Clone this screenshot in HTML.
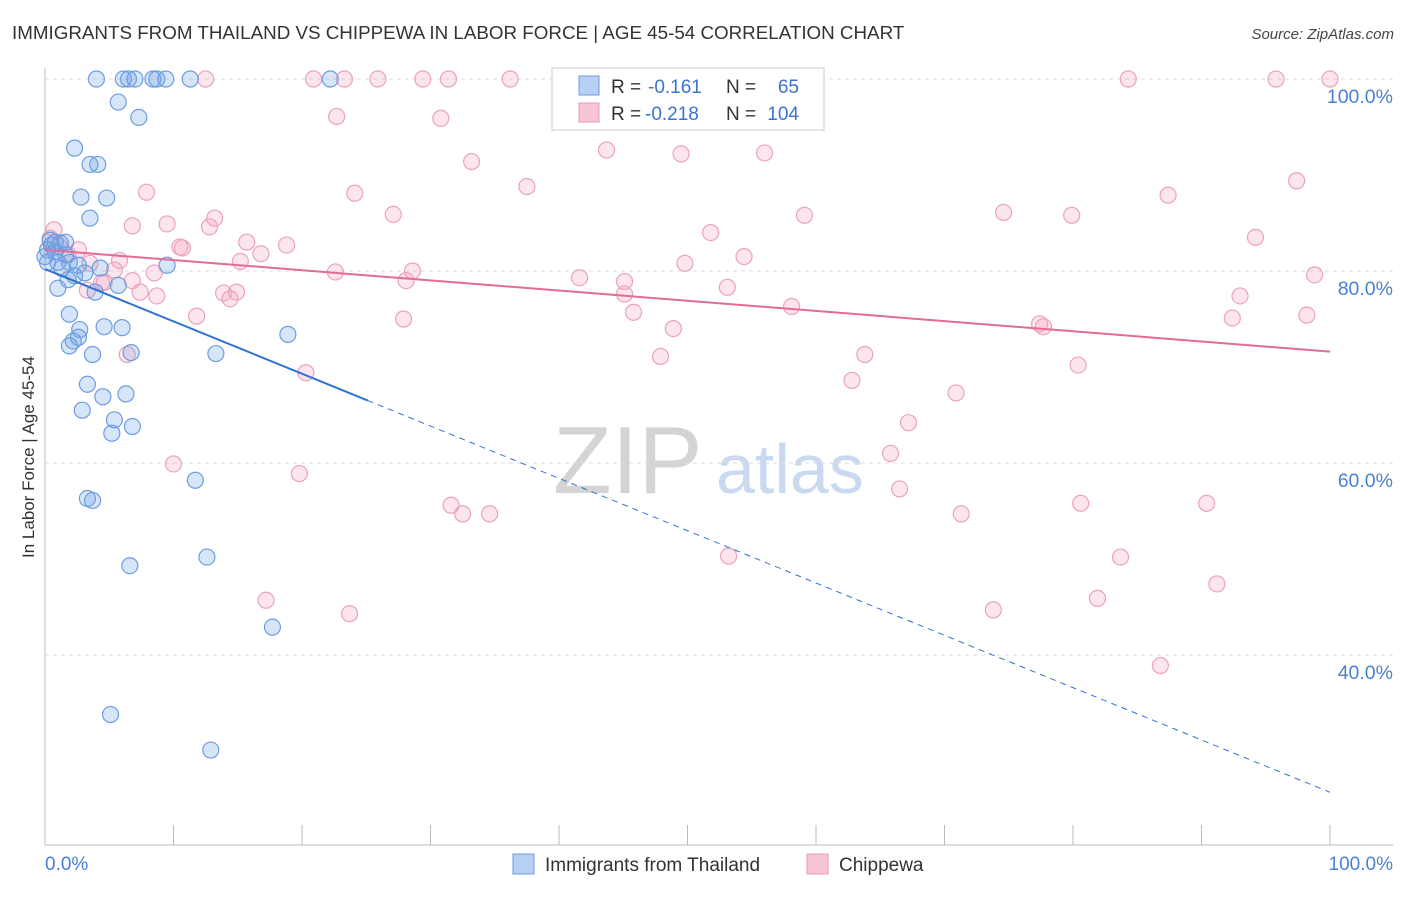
<!DOCTYPE html>
<html><head><meta charset="utf-8"><style>
body{margin:0;background:#fff;font-family:"Liberation Sans",sans-serif;}
svg text{font-family:"Liberation Sans",sans-serif;}
</style></head><body>
<svg width="1406" height="892" viewBox="0 0 1406 892" xmlns="http://www.w3.org/2000/svg" id="chart">
<text x="12" y="39" font-size="18.8" fill="#333">IMMIGRANTS FROM THAILAND VS CHIPPEWA IN LABOR FORCE | AGE 45-54 CORRELATION CHART</text>
<text x="1394" y="39" font-size="15" fill="#444" text-anchor="end" font-style="italic">Source: ZipAtlas.com</text>
<g>
<text x="553" y="493" font-size="96" font-family="Liberation Serif" fill="#d4d4d4">ZIP</text>
<text x="716" y="493" font-size="70" fill="#c9d9f0">atlas</text>
</g>
<g id="grid"></g>
<g id="axes"></g>
<g id="marks"></g>
<text transform="translate(34,457) rotate(-90)" font-size="17" fill="#333" text-anchor="middle">In Labor Force | Age 45-54</text>
<g>
<rect x="552" y="68" width="272" height="62" fill="#fff" stroke="#ccc"/>
<rect x="579" y="76" width="20" height="19" fill="#b8d0f4" stroke="#6d9de0"/>
<rect x="579" y="103" width="20" height="19" fill="#f9c4d5" stroke="#e89ab5"/>
<text x="611" y="93" font-size="19" fill="#333">R =</text>
<text x="648" y="93" font-size="19" fill="#3b73d0">-0.161</text>
<text x="726" y="93" font-size="19" fill="#333">N =</text>
<text x="799" y="93" font-size="19" fill="#3b73d0" text-anchor="end">65</text>
<text x="611" y="120" font-size="19" fill="#333">R =</text>
<text x="645" y="120" font-size="19" fill="#3b73d0">-0.218</text>
<text x="726" y="120" font-size="19" fill="#333">N =</text>
<text x="799" y="120" font-size="19" fill="#3b73d0" text-anchor="end">104</text>
</g>
<g>
<rect x="513" y="854" width="21" height="20" fill="#b8d0f4" stroke="#6d9de0"/>
<text x="545" y="871" font-size="19" fill="#333">Immigrants from Thailand</text>
<rect x="807" y="854" width="21" height="20" fill="#f9c4d5" stroke="#e89ab5"/>
<text x="839" y="871" font-size="19" fill="#333">Chippewa</text>
</g>
</svg>
<script>
const yTicks=[100,80,60,40];
const yTickLabels=["100.0%","80.0%","60.0%","40.0%"];
const xTickValues=[0,10,20,30,40,50,60,70,80,90,100];
const blueX=[4.0,6.1,6.5,7.0,8.4,8.7,9.4,11.3,22.2,5.7,7.3,2.3,3.5,4.1,2.8,4.8,3.5,0.4,0.8,1.2,1.6,0.2,0.8,1.6,1.0,1.9,2.6,1.3,3.1,9.5,1.0,5.7,3.9,1.9,4.6,6.0,2.7,2.6,2.2,1.9,3.7,6.7,13.3,18.9,3.3,4.5,6.3,2.9,5.4,5.2,6.8,3.3,3.7,11.7,6.6,12.6,17.7,5.1,12.9,0.2,0.5,0.0,2.3,1.8,4.3];
const blueY=[100,100,100,100,100,100,100,100,100,97.6,96.0,92.8,91.1,91.1,87.7,87.6,85.5,83.2,83.0,82.9,83.0,82.2,82.0,81.7,80.9,80.9,80.6,80.3,79.8,80.6,78.2,78.5,77.8,75.5,74.2,74.1,73.9,73.1,72.7,72.2,71.3,71.5,71.4,73.4,68.2,66.9,67.2,65.5,64.5,63.1,63.8,56.3,56.1,58.2,49.3,50.2,42.9,33.8,30.1,80.9,82.7,81.5,79.5,79.1,80.3];
const pinkX=[0.7,0.4,1.1,2.6,1.8,3.5,5.8,4.6,5.4,3.3,7.4,8.7,6.8,6.4,7.9,6.8,9.5,10.5,10.7,8.5,11.8,12.8,13.2,13.9,14.9,14.4,15.2,15.7,16.8,18.8,10.0,12.5,20.9,22.7,23.3,24.1,22.6,25.9,27.1,28.1,28.6,27.9,20.3,19.8,17.2,23.7,29.4,31.4,30.8,33.2,36.2,37.5,31.6,32.5,34.6,41.6,43.7,45.1,45.1,45.8,46.4,49.5,49.8,48.9,47.9,51.8,53.1,54.4,56.0,58.1,59.1,53.2,62.8,63.8,67.2,65.8,66.5,70.9,71.3,74.6,73.8,77.4,77.7,79.9,80.4,80.6,81.9,83.7,84.3,87.4,86.8,90.4,91.2,92.4,93.0,94.2,95.8,97.4,98.2,98.8,100,4.4];
const pinkY=[84.3,83.4,82.6,82.2,81.7,80.8,81.1,78.8,80.1,78.0,77.8,77.4,79.0,71.3,88.2,84.7,84.9,82.5,82.4,79.8,75.3,84.6,85.5,77.7,77.8,77.1,81.0,83.0,81.8,82.7,59.9,100,100,96.1,100,88.1,79.9,100,85.9,79.0,80.0,75.0,69.4,58.9,45.7,44.3,100,100,95.9,91.4,100,88.8,55.6,54.7,54.7,79.3,92.6,78.9,77.6,75.7,100,92.2,80.8,74.0,71.1,84.0,78.3,81.5,92.3,76.3,85.8,50.3,68.6,71.3,64.2,61.0,57.3,67.3,54.7,86.1,44.7,74.5,74.2,85.8,70.2,55.8,45.9,50.2,100,87.9,38.9,55.8,47.4,75.1,77.4,83.5,100,89.4,75.4,79.6,100,78.8];
const blueTrend=[80.2,25.7];
const pinkTrend=[82.2,71.6];
const blueSolidEnd=25.1;

const NS="http://www.w3.org/2000/svg";
const xs=v=>45+v*12.85;
const ys=v=>79+(100-v)*9.6;
function mk(tag,attrs,parent){const e=document.createElementNS(NS,tag);for(const k in attrs)e.setAttribute(k,attrs[k]);parent.appendChild(e);return e;}
const grid=document.getElementById('grid'),axes=document.getElementById('axes'),marks=document.getElementById('marks');
yTicks.forEach((t,i)=>{
  const l=mk('line',{x1:45,x2:1393,y1:ys(t),y2:ys(t),stroke:'#ddd','stroke-dasharray':'4,4'},grid);
  
  
  const tx=mk('text',{x:1393,y:ys(t)+24,'font-size':19.5,fill:'#4a7fd4','text-anchor':'end'},axes);
  tx.textContent=yTickLabels[i];
  
  
});
const ya=mk('line',{x1:45,x2:45,y1:68,y2:845,stroke:'#bbb'},axes);


const xa=mk('line',{x1:45,x2:1393,y1:845,y2:845,stroke:'#bbb'},axes);


xTickValues.forEach(t=>{
  const l=mk('line',{x1:xs(t),x2:xs(t),y1:825,y2:845,stroke:'#bbb'},axes);
  
  
});
const xl0=mk('text',{x:45,y:870,'font-size':19,fill:'#4a7fd4'},axes);xl0.textContent='0.0%';


const xl1=mk('text',{x:1393,y:870,'font-size':19,fill:'#4a7fd4','text-anchor':'end'},axes);xl1.textContent='100.0%';



function pts(X,Y,fill,stroke,name){X.forEach((x,i)=>{
  const c=mk('circle',{cx:xs(x),cy:ys(Y[i]),r:8,fill:fill,stroke:stroke,'stroke-width':1.2},marks);
  
  
});}
pts(pinkX,pinkY,'rgba(245,160,190,0.28)','#eba2bc','chippewa-point');
pts(blueX,blueY,'rgba(110,160,230,0.28)','#6d9de0','thailand-point');
const by=v=>blueTrend[0]+(blueTrend[1]-blueTrend[0])*v/100;
const b1=mk('line',{x1:xs(0),y1:ys(by(0)),x2:xs(blueSolidEnd),y2:ys(by(blueSolidEnd)),stroke:'#2f72d6','stroke-width':2},marks);


const b2=mk('line',{x1:xs(blueSolidEnd),y1:ys(by(blueSolidEnd)),x2:xs(100),y2:ys(by(100)),stroke:'#2f72d6','stroke-width':1,'stroke-dasharray':'6,5'},marks);


const p1=mk('line',{x1:xs(0),y1:ys(pinkTrend[0]),x2:xs(100),y2:ys(pinkTrend[1]),stroke:'#e46a97','stroke-width':2},marks);


</script>
</body></html>
